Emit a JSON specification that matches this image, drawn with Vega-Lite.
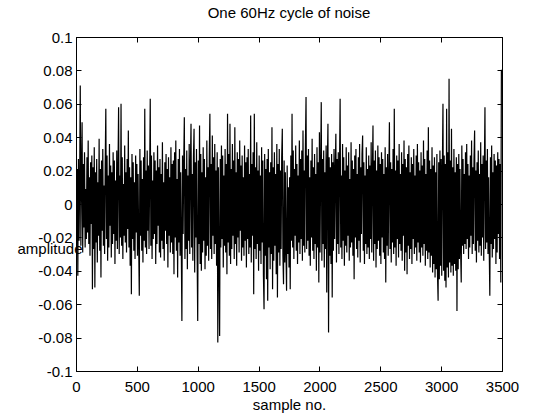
{
"$schema": "https://vega.github.io/schema/vega-lite/v6.json",
"width": 426, "height": 334,
"autosize": {"type": "none"},
"padding": {"left": 76, "top": 37, "right": 46, "bottom": 47},
"background": "white",
"title": {"text": "One 60Hz cycle of noise", "font": "Liberation Sans", "fontSize": 15, "fontWeight": "normal", "color": "black", "offset": 9, "anchor": "middle"},
"config": {
 "view": {"stroke": "black", "strokeWidth": 1},
 "axis": {"grid": false, "labelFont": "Liberation Sans", "labelFontSize": 15, "labelColor": "black", "titleFont": "Liberation Sans", "titleFontSize": 15, "titleFontWeight": "normal", "titleColor": "black", "domainColor": "black", "tickColor": "black", "tickSize": -5, "domainWidth": 1, "tickWidth": 1, "labelExpr": "'' + datum.value"}
},
"data": {"values": [
{"n":0,"v":0.026},{"n":5,"v":-0.018},{"n":10,"v":0.021},{"n":15,"v":-0.043},{"n":20,"v":0.027},{"n":25,"v":-0.022},{"n":30,"v":0.012},{"n":35,"v":0.071},{"n":40,"v":-0.025},{"n":45,"v":0.018},{"n":50,"v":0.049},{"n":55,"v":-0.029},{"n":60,"v":0.024},{"n":65,"v":-0.014},{"n":70,"v":0.031},{"n":75,"v":-0.026},{"n":80,"v":0.009},{"n":85,"v":-0.021},{"n":90,"v":0.028},{"n":95,"v":-0.017},
{"n":100,"v":0.038},{"n":105,"v":-0.024},{"n":110,"v":0.016},{"n":115,"v":-0.031},{"n":120,"v":0.025},{"n":125,"v":-0.012},{"n":130,"v":0.029},{"n":135,"v":-0.051},{"n":140,"v":0.022},{"n":145,"v":-0.027},{"n":150,"v":0.034},{"n":155,"v":-0.050},{"n":160,"v":0.019},{"n":165,"v":-0.023},{"n":170,"v":0.027},{"n":175,"v":-0.035},{"n":180,"v":0.013},{"n":185,"v":-0.019},{"n":190,"v":0.039},{"n":195,"v":-0.028},
{"n":200,"v":0.021},{"n":205,"v":-0.044},{"n":210,"v":0.026},{"n":215,"v":-0.016},{"n":220,"v":0.033},{"n":225,"v":-0.025},{"n":230,"v":0.011},{"n":235,"v":-0.030},{"n":240,"v":0.024},{"n":245,"v":0.057},{"n":250,"v":-0.021},{"n":255,"v":0.029},{"n":260,"v":-0.034},{"n":265,"v":0.017},{"n":270,"v":-0.026},{"n":275,"v":0.036},{"n":280,"v":-0.013},{"n":285,"v":0.023},{"n":290,"v":-0.032},{"n":295,"v":0.019},
{"n":300,"v":-0.024},{"n":305,"v":0.031},{"n":310,"v":-0.018},{"n":315,"v":0.026},{"n":320,"v":-0.036},{"n":325,"v":0.014},{"n":330,"v":-0.022},{"n":335,"v":0.032},{"n":340,"v":-0.027},{"n":345,"v":0.021},{"n":350,"v":0.058},{"n":355,"v":-0.030},{"n":360,"v":0.017},{"n":365,"v":-0.020},{"n":370,"v":0.060},{"n":375,"v":-0.025},{"n":380,"v":0.028},{"n":385,"v":-0.033},{"n":390,"v":0.012},{"n":395,"v":-0.019},
{"n":400,"v":0.035},{"n":405,"v":-0.023},{"n":410,"v":0.019},{"n":415,"v":-0.029},{"n":420,"v":0.027},{"n":425,"v":-0.015},{"n":430,"v":0.044},{"n":435,"v":-0.026},{"n":440,"v":0.022},{"n":445,"v":-0.037},{"n":450,"v":0.016},{"n":455,"v":-0.054},{"n":460,"v":0.030},{"n":465,"v":-0.021},{"n":470,"v":0.025},{"n":475,"v":-0.028},{"n":480,"v":0.013},{"n":485,"v":-0.033},{"n":490,"v":0.029},{"n":495,"v":-0.017},
{"n":500,"v":0.024},{"n":505,"v":-0.031},{"n":510,"v":0.018},{"n":515,"v":-0.024},{"n":520,"v":-0.055},{"n":525,"v":0.033},{"n":530,"v":-0.019},{"n":535,"v":0.026},{"n":540,"v":-0.028},{"n":545,"v":0.015},{"n":550,"v":-0.035},{"n":555,"v":0.028},{"n":560,"v":-0.022},{"n":565,"v":0.057},{"n":570,"v":-0.026},{"n":575,"v":0.020},{"n":580,"v":-0.030},{"n":585,"v":0.032},{"n":590,"v":-0.016},{"n":595,"v":0.023},
{"n":600,"v":-0.027},{"n":605,"v":0.017},{"n":610,"v":0.063},{"n":615,"v":-0.025},{"n":620,"v":0.029},{"n":625,"v":-0.033},{"n":630,"v":0.014},{"n":635,"v":-0.021},{"n":640,"v":0.031},{"n":645,"v":-0.018},{"n":650,"v":0.026},{"n":655,"v":-0.036},{"n":660,"v":0.020},{"n":665,"v":-0.024},{"n":670,"v":0.035},{"n":675,"v":-0.013},{"n":680,"v":0.022},{"n":685,"v":-0.029},{"n":690,"v":0.027},{"n":695,"v":-0.032},
{"n":700,"v":0.018},{"n":705,"v":-0.022},{"n":710,"v":0.037},{"n":715,"v":-0.027},{"n":720,"v":0.013},{"n":725,"v":-0.034},{"n":730,"v":0.025},{"n":735,"v":-0.016},{"n":740,"v":0.030},{"n":745,"v":-0.024},{"n":750,"v":0.021},{"n":755,"v":-0.038},{"n":760,"v":0.028},{"n":765,"v":-0.019},{"n":770,"v":0.016},{"n":775,"v":-0.029},{"n":780,"v":0.034},{"n":785,"v":-0.023},{"n":790,"v":0.024},{"n":795,"v":-0.030},
{"n":800,"v":0.026},{"n":805,"v":-0.042},{"n":810,"v":0.031},{"n":815,"v":-0.020},{"n":820,"v":0.038},{"n":825,"v":-0.028},{"n":830,"v":0.015},{"n":835,"v":-0.044},{"n":840,"v":0.027},{"n":845,"v":-0.023},{"n":850,"v":0.033},{"n":855,"v":-0.031},{"n":860,"v":0.019},{"n":865,"v":-0.025},{"n":870,"v":-0.070},{"n":875,"v":0.029},{"n":880,"v":-0.018},{"n":885,"v":0.024},{"n":890,"v":0.052},{"n":895,"v":-0.033},
{"n":900,"v":0.021},{"n":905,"v":-0.027},{"n":910,"v":0.032},{"n":915,"v":-0.039},{"n":920,"v":0.017},{"n":925,"v":-0.022},{"n":930,"v":0.036},{"n":935,"v":-0.030},{"n":940,"v":0.023},{"n":945,"v":0.048},{"n":950,"v":-0.026},{"n":955,"v":0.018},{"n":960,"v":-0.034},{"n":965,"v":0.028},{"n":970,"v":0.045},{"n":975,"v":-0.041},{"n":980,"v":0.025},{"n":985,"v":-0.020},{"n":990,"v":0.033},{"n":995,"v":-0.028},
{"n":1000,"v":-0.070},{"n":1005,"v":0.026},{"n":1010,"v":-0.024},{"n":1015,"v":0.047},{"n":1020,"v":-0.036},{"n":1025,"v":0.030},{"n":1030,"v":-0.040},{"n":1035,"v":0.019},{"n":1040,"v":-0.029},{"n":1045,"v":0.034},{"n":1050,"v":-0.022},{"n":1055,"v":0.027},{"n":1060,"v":-0.039},{"n":1065,"v":0.016},{"n":1070,"v":-0.031},{"n":1075,"v":0.038},{"n":1080,"v":-0.025},{"n":1085,"v":0.022},{"n":1090,"v":-0.034},{"n":1095,"v":0.029},
{"n":1100,"v":0.054},{"n":1105,"v":-0.027},{"n":1110,"v":0.024},{"n":1115,"v":-0.033},{"n":1120,"v":0.041},{"n":1125,"v":-0.019},{"n":1130,"v":0.028},{"n":1135,"v":-0.030},{"n":1140,"v":0.036},{"n":1145,"v":-0.024},{"n":1150,"v":0.020},{"n":1155,"v":-0.037},{"n":1160,"v":0.031},{"n":1165,"v":-0.083},{"n":1170,"v":0.022},{"n":1175,"v":-0.035},{"n":1180,"v":-0.079},{"n":1185,"v":0.027},{"n":1190,"v":-0.026},{"n":1195,"v":0.035},
{"n":1200,"v":-0.021},{"n":1205,"v":0.029},{"n":1210,"v":-0.038},{"n":1215,"v":0.017},{"n":1220,"v":-0.025},{"n":1225,"v":0.033},{"n":1230,"v":-0.029},{"n":1235,"v":0.024},{"n":1240,"v":-0.042},{"n":1245,"v":0.054},{"n":1250,"v":-0.023},{"n":1255,"v":0.030},{"n":1260,"v":-0.031},{"n":1265,"v":0.048},{"n":1270,"v":-0.036},{"n":1275,"v":0.021},{"n":1280,"v":-0.027},{"n":1285,"v":0.036},{"n":1290,"v":-0.019},{"n":1295,"v":0.026},
{"n":1300,"v":-0.033},{"n":1305,"v":0.046},{"n":1310,"v":-0.024},{"n":1315,"v":0.019},{"n":1320,"v":-0.037},{"n":1325,"v":0.031},{"n":1330,"v":-0.020},{"n":1335,"v":0.027},{"n":1340,"v":-0.029},{"n":1345,"v":0.038},{"n":1350,"v":-0.016},{"n":1355,"v":0.023},{"n":1360,"v":-0.034},{"n":1365,"v":0.029},{"n":1370,"v":-0.026},{"n":1375,"v":0.016},{"n":1380,"v":-0.031},{"n":1385,"v":0.035},{"n":1390,"v":-0.022},{"n":1395,"v":0.025},
{"n":1400,"v":-0.038},{"n":1405,"v":0.028},{"n":1410,"v":-0.021},{"n":1415,"v":0.033},{"n":1420,"v":-0.030},{"n":1425,"v":0.018},{"n":1430,"v":-0.026},{"n":1435,"v":0.053},{"n":1440,"v":-0.035},{"n":1445,"v":0.024},{"n":1450,"v":-0.019},{"n":1455,"v":0.031},{"n":1460,"v":-0.054},{"n":1465,"v":0.054},{"n":1470,"v":-0.027},{"n":1475,"v":0.022},{"n":1480,"v":-0.033},{"n":1485,"v":0.037},{"n":1490,"v":-0.024},{"n":1495,"v":0.020},
{"n":1500,"v":-0.040},{"n":1505,"v":0.029},{"n":1510,"v":-0.028},{"n":1515,"v":0.017},{"n":1520,"v":-0.036},{"n":1525,"v":0.034},{"n":1530,"v":-0.023},{"n":1535,"v":0.026},{"n":1540,"v":-0.043},{"n":1545,"v":-0.063},{"n":1550,"v":0.030},{"n":1555,"v":-0.031},{"n":1560,"v":0.021},{"n":1565,"v":-0.045},{"n":1570,"v":0.027},{"n":1575,"v":-0.058},{"n":1580,"v":0.033},{"n":1585,"v":-0.026},{"n":1590,"v":0.019},{"n":1595,"v":-0.039},
{"n":1600,"v":0.025},{"n":1605,"v":-0.030},{"n":1610,"v":0.046},{"n":1615,"v":-0.051},{"n":1620,"v":0.022},{"n":1625,"v":-0.034},{"n":1630,"v":0.031},{"n":1635,"v":-0.025},{"n":1640,"v":0.018},{"n":1645,"v":-0.042},{"n":1650,"v":0.036},{"n":1655,"v":-0.056},{"n":1660,"v":0.024},{"n":1665,"v":-0.029},{"n":1670,"v":0.033},{"n":1675,"v":-0.037},{"n":1680,"v":0.020},{"n":1685,"v":-0.027},{"n":1690,"v":0.028},{"n":1695,"v":0.045},
{"n":1700,"v":-0.031},{"n":1705,"v":-0.048},{"n":1710,"v":0.026},{"n":1715,"v":-0.035},{"n":1720,"v":0.019},{"n":1725,"v":-0.028},{"n":1730,"v":-0.052},{"n":1735,"v":0.023},{"n":1740,"v":-0.030},{"n":1745,"v":0.010},{"n":1750,"v":-0.038},{"n":1755,"v":0.016},{"n":1760,"v":-0.051},{"n":1765,"v":0.029},{"n":1770,"v":-0.022},{"n":1775,"v":0.054},{"n":1780,"v":-0.026},{"n":1785,"v":0.032},{"n":1790,"v":-0.033},{"n":1795,"v":0.021},
{"n":1800,"v":-0.019},{"n":1805,"v":0.035},{"n":1810,"v":-0.028},{"n":1815,"v":0.024},{"n":1820,"v":-0.036},{"n":1825,"v":0.017},{"n":1830,"v":-0.023},{"n":1835,"v":0.038},{"n":1840,"v":-0.030},{"n":1845,"v":0.027},{"n":1850,"v":-0.021},{"n":1855,"v":0.032},{"n":1860,"v":-0.034},{"n":1865,"v":0.044},{"n":1870,"v":-0.025},{"n":1875,"v":0.020},{"n":1880,"v":-0.029},{"n":1885,"v":0.036},{"n":1890,"v":0.064},{"n":1895,"v":-0.027},
{"n":1900,"v":0.029},{"n":1905,"v":-0.022},{"n":1910,"v":0.033},{"n":1915,"v":-0.031},{"n":1920,"v":0.016},{"n":1925,"v":-0.037},{"n":1930,"v":0.026},{"n":1935,"v":-0.020},{"n":1940,"v":0.039},{"n":1945,"v":-0.028},{"n":1950,"v":0.022},{"n":1955,"v":-0.033},{"n":1960,"v":0.030},{"n":1965,"v":-0.024},{"n":1970,"v":0.018},{"n":1975,"v":-0.040},{"n":1980,"v":0.034},{"n":1985,"v":-0.026},{"n":1990,"v":0.025},{"n":1995,"v":-0.047},
{"n":2000,"v":0.043},{"n":2005,"v":-0.029},{"n":2010,"v":0.021},{"n":2015,"v":0.061},{"n":2020,"v":-0.034},{"n":2025,"v":0.027},{"n":2030,"v":-0.024},{"n":2035,"v":0.032},{"n":2040,"v":-0.038},{"n":2045,"v":0.019},{"n":2050,"v":-0.027},{"n":2055,"v":0.035},{"n":2060,"v":-0.053},{"n":2065,"v":0.024},{"n":2070,"v":0.048},{"n":2075,"v":-0.077},{"n":2080,"v":0.028},{"n":2085,"v":-0.031},{"n":2090,"v":0.022},{"n":2095,"v":-0.036},
{"n":2100,"v":0.030},{"n":2105,"v":-0.056},{"n":2110,"v":0.025},{"n":2115,"v":-0.028},{"n":2120,"v":0.033},{"n":2125,"v":-0.021},{"n":2130,"v":0.019},{"n":2135,"v":0.042},{"n":2140,"v":-0.035},{"n":2145,"v":0.027},{"n":2150,"v":-0.024},{"n":2155,"v":0.031},{"n":2160,"v":-0.030},{"n":2165,"v":0.022},{"n":2170,"v":0.063},{"n":2175,"v":-0.026},{"n":2180,"v":0.017},{"n":2185,"v":-0.033},{"n":2190,"v":0.036},{"n":2195,"v":-0.022},
{"n":2200,"v":0.028},{"n":2205,"v":-0.037},{"n":2210,"v":0.020},{"n":2215,"v":-0.025},{"n":2220,"v":0.034},{"n":2225,"v":-0.029},{"n":2230,"v":0.023},{"n":2235,"v":-0.019},{"n":2240,"v":0.031},{"n":2245,"v":-0.034},{"n":2250,"v":0.015},{"n":2255,"v":-0.026},{"n":2260,"v":0.037},{"n":2265,"v":-0.023},{"n":2270,"v":0.026},{"n":2275,"v":-0.031},{"n":2280,"v":0.021},{"n":2285,"v":-0.045},{"n":2290,"v":0.029},{"n":2295,"v":-0.020},
{"n":2300,"v":0.033},{"n":2305,"v":-0.027},{"n":2310,"v":0.018},{"n":2315,"v":-0.032},{"n":2320,"v":0.028},{"n":2325,"v":-0.022},{"n":2330,"v":0.036},{"n":2335,"v":-0.035},{"n":2340,"v":0.022},{"n":2345,"v":-0.018},{"n":2350,"v":0.030},{"n":2355,"v":0.041},{"n":2360,"v":-0.028},{"n":2365,"v":0.025},{"n":2370,"v":-0.036},{"n":2375,"v":0.017},{"n":2380,"v":-0.024},{"n":2385,"v":0.034},{"n":2390,"v":-0.030},{"n":2395,"v":0.021},
{"n":2400,"v":-0.026},{"n":2405,"v":0.029},{"n":2410,"v":-0.033},{"n":2415,"v":0.023},{"n":2420,"v":-0.021},{"n":2425,"v":0.037},{"n":2430,"v":-0.029},{"n":2435,"v":0.019},{"n":2440,"v":0.047},{"n":2445,"v":-0.034},{"n":2450,"v":0.026},{"n":2455,"v":-0.024},{"n":2460,"v":0.032},{"n":2465,"v":-0.038},{"n":2470,"v":0.020},{"n":2475,"v":-0.027},{"n":2480,"v":0.035},{"n":2485,"v":-0.022},{"n":2490,"v":0.028},{"n":2495,"v":-0.031},
{"n":2500,"v":0.024},{"n":2505,"v":-0.036},{"n":2510,"v":0.031},{"n":2515,"v":-0.020},{"n":2520,"v":0.027},{"n":2525,"v":-0.029},{"n":2530,"v":0.018},{"n":2535,"v":-0.033},{"n":2540,"v":0.034},{"n":2545,"v":-0.047},{"n":2550,"v":0.022},{"n":2555,"v":-0.025},{"n":2560,"v":0.030},{"n":2565,"v":-0.031},{"n":2570,"v":0.016},{"n":2575,"v":0.049},{"n":2580,"v":-0.027},{"n":2585,"v":0.025},{"n":2590,"v":-0.035},{"n":2595,"v":0.021},
{"n":2600,"v":-0.023},{"n":2605,"v":0.033},{"n":2610,"v":-0.030},{"n":2615,"v":0.057},{"n":2620,"v":-0.026},{"n":2625,"v":0.020},{"n":2630,"v":-0.037},{"n":2635,"v":0.029},{"n":2640,"v":-0.021},{"n":2645,"v":0.026},{"n":2650,"v":-0.032},{"n":2655,"v":0.036},{"n":2660,"v":-0.024},{"n":2665,"v":0.018},{"n":2670,"v":-0.028},{"n":2675,"v":0.031},{"n":2680,"v":-0.034},{"n":2685,"v":0.024},{"n":2690,"v":-0.019},{"n":2695,"v":0.038},
{"n":2700,"v":-0.040},{"n":2705,"v":0.027},{"n":2710,"v":-0.029},{"n":2715,"v":0.022},{"n":2720,"v":-0.042},{"n":2725,"v":0.030},{"n":2730,"v":-0.025},{"n":2735,"v":0.035},{"n":2740,"v":-0.033},{"n":2745,"v":0.019},{"n":2750,"v":-0.027},{"n":2755,"v":0.028},{"n":2760,"v":-0.036},{"n":2765,"v":0.024},{"n":2770,"v":-0.021},{"n":2775,"v":0.033},{"n":2780,"v":-0.030},{"n":2785,"v":0.017},{"n":2790,"v":-0.026},{"n":2795,"v":0.029},
{"n":2800,"v":-0.034},{"n":2805,"v":0.036},{"n":2810,"v":-0.023},{"n":2815,"v":0.025},{"n":2820,"v":-0.029},{"n":2825,"v":0.020},{"n":2830,"v":-0.035},{"n":2835,"v":0.031},{"n":2840,"v":-0.026},{"n":2845,"v":0.023},{"n":2850,"v":-0.031},{"n":2855,"v":0.038},{"n":2860,"v":-0.024},{"n":2865,"v":0.027},{"n":2870,"v":-0.037},{"n":2875,"v":0.018},{"n":2880,"v":-0.028},{"n":2885,"v":0.032},{"n":2890,"v":-0.033},{"n":2895,"v":0.046},
{"n":2900,"v":-0.029},{"n":2905,"v":0.026},{"n":2910,"v":-0.038},{"n":2915,"v":0.021},{"n":2920,"v":-0.031},{"n":2925,"v":0.034},{"n":2930,"v":-0.041},{"n":2935,"v":0.023},{"n":2940,"v":-0.036},{"n":2945,"v":0.028},{"n":2950,"v":-0.044},{"n":2955,"v":0.019},{"n":2960,"v":-0.039},{"n":2965,"v":0.030},{"n":2970,"v":-0.042},{"n":2975,"v":-0.058},{"n":2980,"v":0.025},{"n":2985,"v":-0.045},{"n":2990,"v":0.032},{"n":2995,"v":-0.037},
{"n":3000,"v":0.027},{"n":3005,"v":-0.043},{"n":3010,"v":0.021},{"n":3015,"v":0.060},{"n":3020,"v":-0.040},{"n":3025,"v":0.029},{"n":3030,"v":-0.046},{"n":3035,"v":0.024},{"n":3040,"v":-0.050},{"n":3045,"v":0.057},{"n":3050,"v":-0.038},{"n":3055,"v":0.031},{"n":3060,"v":-0.044},{"n":3065,"v":0.075},{"n":3070,"v":-0.035},{"n":3075,"v":0.026},{"n":3080,"v":-0.041},{"n":3085,"v":0.045},{"n":3090,"v":-0.037},{"n":3095,"v":0.022},
{"n":3100,"v":-0.043},{"n":3105,"v":0.033},{"n":3110,"v":-0.036},{"n":3115,"v":0.019},{"n":3120,"v":-0.040},{"n":3125,"v":0.028},{"n":3130,"v":-0.064},{"n":3135,"v":0.024},{"n":3140,"v":-0.039},{"n":3145,"v":0.030},{"n":3150,"v":-0.033},{"n":3155,"v":0.021},{"n":3160,"v":-0.028},{"n":3165,"v":-0.047},{"n":3170,"v":0.035},{"n":3175,"v":-0.025},{"n":3180,"v":0.027},{"n":3185,"v":-0.030},{"n":3190,"v":0.018},{"n":3195,"v":-0.024},
{"n":3200,"v":0.031},{"n":3205,"v":-0.027},{"n":3210,"v":0.036},{"n":3215,"v":-0.021},{"n":3220,"v":0.024},{"n":3225,"v":-0.033},{"n":3230,"v":0.017},{"n":3235,"v":-0.026},{"n":3240,"v":0.029},{"n":3245,"v":-0.019},{"n":3250,"v":0.038},{"n":3255,"v":-0.030},{"n":3260,"v":0.022},{"n":3265,"v":-0.024},{"n":3270,"v":0.027},{"n":3275,"v":0.044},{"n":3280,"v":-0.028},{"n":3285,"v":0.020},{"n":3290,"v":-0.035},{"n":3295,"v":0.025},
{"n":3300,"v":-0.022},{"n":3305,"v":0.032},{"n":3310,"v":-0.029},{"n":3315,"v":0.018},{"n":3320,"v":-0.025},{"n":3325,"v":0.037},{"n":3330,"v":-0.031},{"n":3335,"v":0.024},{"n":3340,"v":-0.020},{"n":3345,"v":0.029},{"n":3350,"v":-0.034},{"n":3355,"v":0.021},{"n":3360,"v":0.058},{"n":3365,"v":-0.027},{"n":3370,"v":0.026},{"n":3375,"v":-0.023},{"n":3380,"v":0.033},{"n":3385,"v":-0.030},{"n":3390,"v":0.016},{"n":3395,"v":-0.026},
{"n":3400,"v":-0.055},{"n":3405,"v":0.028},{"n":3410,"v":-0.024},{"n":3415,"v":0.035},{"n":3420,"v":-0.032},{"n":3425,"v":0.019},{"n":3430,"v":-0.027},{"n":3435,"v":0.030},{"n":3440,"v":-0.021},{"n":3445,"v":0.026},{"n":3450,"v":-0.036},{"n":3455,"v":0.023},{"n":3460,"v":-0.029},{"n":3465,"v":0.031},{"n":3470,"v":-0.018},{"n":3475,"v":0.027},{"n":3480,"v":-0.033},{"n":3485,"v":0.024},{"n":3490,"v":-0.047},{"n":3495,"v":0.080},{"n":3500,"v":0.080}
]},
"layer": [
 {"mark": {"type": "line", "color": "black", "strokeWidth": 1.2, "clip": true},
  "encoding": {
   "x": {"field": "n", "type": "quantitative", "scale": {"domain": [0, 3500], "nice": false, "zero": false},
         "axis": {"orient": "bottom", "title": "sample no.", "values": [0,500,1000,1500,2000,2500,3000,3500], "labelPadding": 13, "titlePadding": 3, "labelFlush": false}},
   "y": {"field": "v", "type": "quantitative", "scale": {"domain": [-0.1, 0.1], "nice": false, "zero": false},
         "axis": {"orient": "left", "title": "amplitude", "values": [-0.1,-0.08,-0.06,-0.04,-0.02,0,0.02,0.04,0.06,0.08,0.1], "labelPadding": 9, "titleAngle": 0, "titleAlign": "right", "titleBaseline": "alphabetic", "titleX": 6, "titleY": 216, "labelFlush": false}}
  }},
 {"mark": {"type": "point", "opacity": 0, "size": 0},
  "encoding": {
   "x": {"field": "n", "type": "quantitative", "axis": {"orient": "top", "labels": false, "title": null, "values": [0,500,1000,1500,2000,2500,3000,3500]}},
   "y": {"field": "v", "type": "quantitative", "axis": {"orient": "right", "labels": false, "title": null, "values": [-0.1,-0.08,-0.06,-0.04,-0.02,0,0.02,0.04,0.06,0.08,0.1]}}
  }}
],
"resolve": {"axis": {"x": "independent", "y": "independent"}}
}
